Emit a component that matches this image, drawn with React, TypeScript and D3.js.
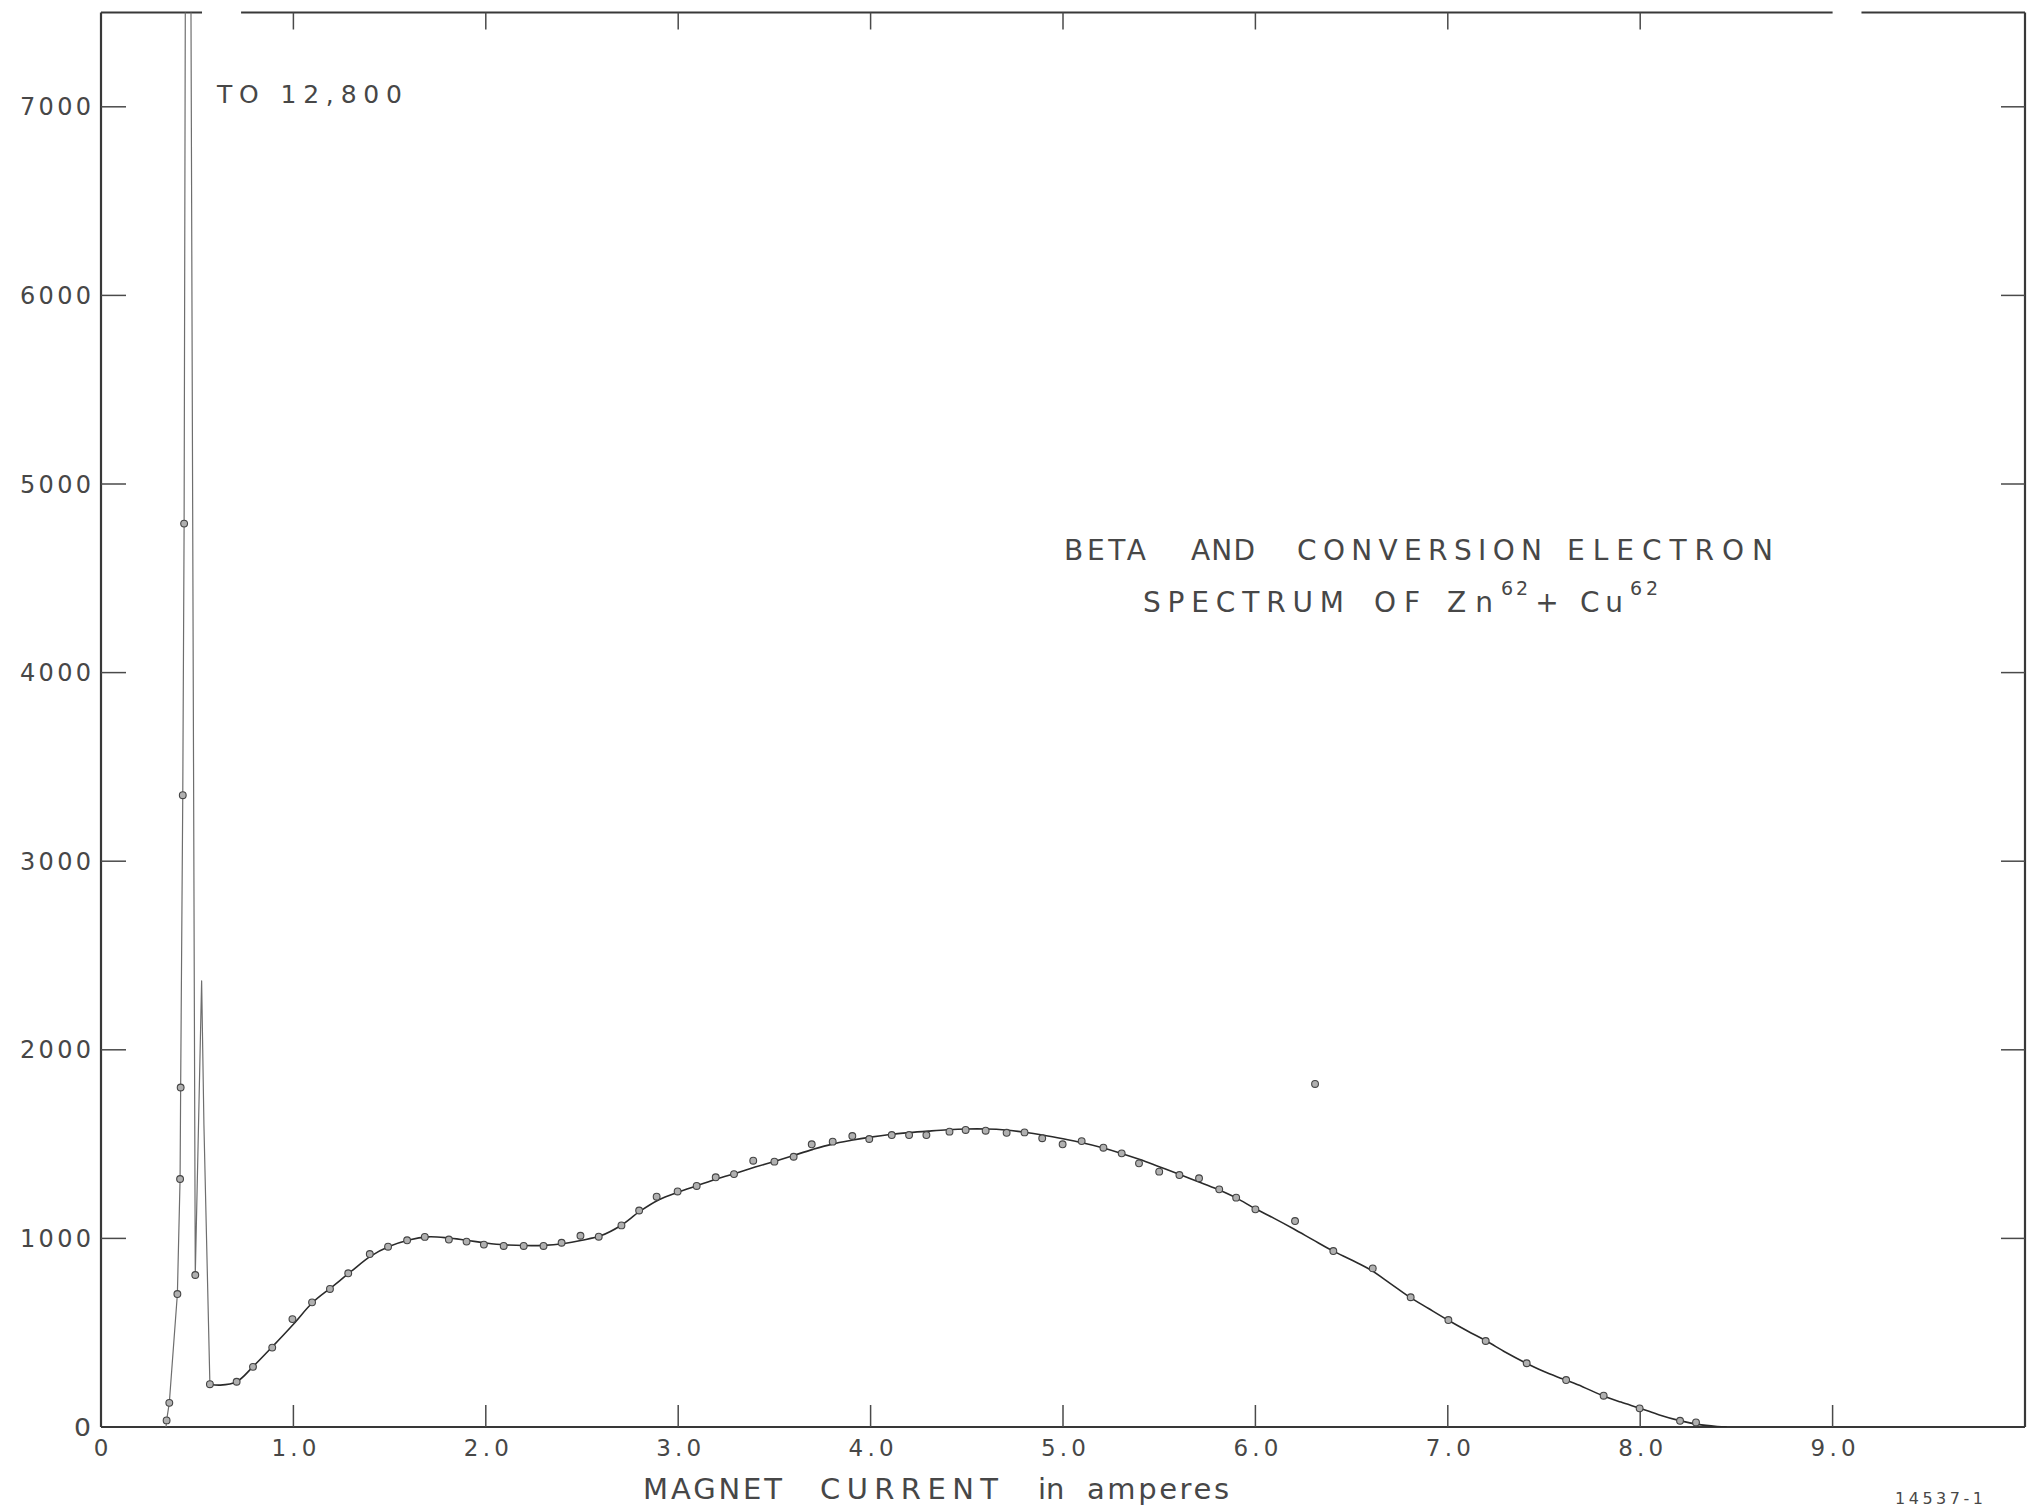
import React from 'react';
import * as d3 from 'd3';

// ---- axis ticks ----
const xTickValues = [1, 2, 3, 4, 5, 6, 7, 8, 9];
const xTickLabels = ['1.0', '2.0', '3.0', '4.0', '5.0', '6.0', '7.0', '8.0', '9.0'];
const yTickValues = [1000, 2000, 3000, 4000, 5000, 6000, 7000];
const yTickLabels = ['1000', '2000', '3000', '4000', '5000', '6000', '7000'];

// ---- conversion peak trace (straight segments, peak runs off scale to 12,800) ----
const peakCurrent = [0.338, 0.341, 0.355, 0.397, 0.411, 0.414, 0.425, 0.432, 0.45, 0.49, 0.523, 0.535, 0.566];
const peakCounts = [0, 35, 128, 705, 1315, 1800, 3350, 4790, 12800, 806, 2365, 1600, 227];

// ---- smooth beta spectrum curve ----
const fitCurrent = [0.566, 0.62, 0.705, 0.79, 0.89, 1.0, 1.1, 1.2, 1.3, 1.4, 1.5, 1.6, 1.7, 1.8, 1.9, 2.0, 2.1, 2.2, 2.3, 2.4, 2.5, 2.6, 2.7, 2.8, 2.9, 3.0, 3.1, 3.2, 3.3, 3.4, 3.5, 3.6, 3.7, 3.8, 3.9, 4.0, 4.1, 4.2, 4.3, 4.4, 4.5, 4.6, 4.7, 4.8, 4.9, 5.0, 5.1, 5.2, 5.3, 5.4, 5.5, 5.6, 5.7, 5.8, 5.9, 6.0, 6.1, 6.2, 6.3, 6.4, 6.5, 6.6, 6.7, 6.8, 6.9, 7.0, 7.1, 7.2, 7.3, 7.4, 7.5, 7.6, 7.7, 7.8, 7.9, 8.0, 8.1, 8.2, 8.3, 8.4, 8.45];
const fitCounts = [227, 222, 240, 320, 425, 545, 660, 742, 825, 905, 958, 992, 1008, 1003, 990, 976, 966, 962, 963, 972, 990, 1015, 1067, 1143, 1205, 1245, 1280, 1315, 1346, 1378, 1408, 1440, 1472, 1500, 1520, 1537, 1551, 1561, 1569, 1576, 1580, 1580, 1575, 1563, 1547, 1528, 1507, 1482, 1452, 1418, 1380, 1342, 1302, 1262, 1215, 1157, 1105, 1050, 992, 935, 885, 832, 762, 690, 628, 567, 510, 456, 396, 342, 294, 254, 214, 168, 132, 99, 64, 35, 14, 3, 0];

// ---- measured points ----
const pointCurrent = [0.341, 0.355, 0.397, 0.411, 0.414, 0.425, 0.432, 0.49, 0.566, 0.705, 0.79, 0.89, 0.995, 1.097, 1.19, 1.285, 1.397, 1.492, 1.591, 1.683, 1.808, 1.9, 1.99, 2.093, 2.197, 2.3, 2.394, 2.492, 2.587, 2.705, 2.797, 2.888, 2.997, 3.096, 3.195, 3.29, 3.39, 3.5, 3.6, 3.694, 3.803, 3.905, 3.993, 4.11, 4.2, 4.29, 4.41, 4.494, 4.598, 4.707, 4.8, 4.892, 4.998, 5.097, 5.21, 5.305, 5.395, 5.5, 5.605, 5.707, 5.812, 5.9, 6.0, 6.206, 6.31, 6.405, 6.61, 6.807, 7.003, 7.197, 7.41, 7.615, 7.81, 7.997, 8.207, 8.29];
const pointCounts = [35, 128, 705, 1315, 1800, 3350, 4790, 806, 227, 240, 319, 421, 572, 661, 732, 815, 917, 956, 990, 1008, 994, 983, 967, 960, 960, 960, 977, 1014, 1009, 1069, 1148, 1221, 1249, 1278, 1324, 1341, 1412, 1407, 1433, 1499, 1513, 1543, 1527, 1548, 1548, 1548, 1566, 1575, 1571, 1560, 1562, 1531, 1499, 1516, 1481, 1451, 1398, 1354, 1336, 1319, 1260, 1216, 1154, 1092, 1819, 933, 841, 688, 567, 456, 338, 249, 166, 99, 33, 24];

// gaps in the top border (in amperes)
const topGaps = [[0.525, 0.728], [9.0, 9.15]];

const W = 2028;
const H = 1507;
const INK = '#474747';
const FONT = '"DejaVu Sans", sans-serif';

export default function App() {
  const x = d3.scaleLinear().domain([0, 10]).range([101, 2025]);
  const y = d3.scaleLinear().domain([0, 7500]).range([1427, 12.5]);

  const peakData = peakCurrent.map((c, i) => [c, peakCounts[i]] as [number, number]);
  const fitData = fitCurrent.map((c, i) => [c, fitCounts[i]] as [number, number]);
  const pts = pointCurrent.map((c, i) => [c, pointCounts[i]] as [number, number]);

  const peakPath = d3.line<[number, number]>().x(d => x(d[0])).y(d => y(d[1])).curve(d3.curveLinear)(peakData) || '';
  const fitPath = d3.line<[number, number]>().x(d => x(d[0])).y(d => y(d[1])).curve(d3.curveCatmullRom.alpha(0.5))(fitData) || '';

  const x0 = x(0), x1 = x(10), yTop = y(7500), yBot = y(0);

  const segs: [number, number][] = [];
  let start = 0;
  topGaps.forEach(g => { segs.push([start, g[0]]); start = g[1]; });
  segs.push([start, 10]);

  const textStyle = { fontFamily: FONT, fill: INK } as const;

  return (
    <svg width={W} height={H} viewBox={`0 0 ${W} ${H}`} style={{ position: 'absolute', left: 0, top: 0, display: 'block', background: '#fff' }}>
      <rect x={0} y={0} width={W} height={H} fill="#fff" />
      <defs>
        <clipPath id="plot">
          <rect x={x0} y={yTop} width={x1 - x0} height={yBot - yTop} />
        </clipPath>
      </defs>

      {/* frame */}
      <g stroke="#383838" strokeWidth={2.2} fill="none">
        <line x1={x0} y1={yTop} x2={x0} y2={yBot} />
        <line x1={x0} y1={yBot} x2={x1} y2={yBot} />
        <line x1={x1} y1={yTop} x2={x1} y2={yBot} />
        {segs.map((s, i) => (
          <line key={i} x1={x(s[0])} y1={yTop} x2={x(s[1])} y2={yTop} />
        ))}
      </g>

      {/* ticks */}
      <g stroke="#4a4a4a" strokeWidth={1.5}>
        {xTickValues.map(v => (
          <line key={'xb' + v} x1={x(v)} x2={x(v)} y1={yBot} y2={yBot - 22} />
        ))}
        {xTickValues.filter(v => v < 9).map(v => (
          <line key={'xt' + v} x1={x(v)} x2={x(v)} y1={yTop} y2={yTop + 17} />
        ))}
        {yTickValues.map(v => (
          <line key={'yl' + v} x1={x0} x2={x0 + 25} y1={y(v)} y2={y(v)} />
        ))}
        {yTickValues.map(v => (
          <line key={'yr' + v} x1={x1} x2={x1 - 24} y1={y(v)} y2={y(v)} />
        ))}
      </g>

      {/* y tick labels */}
      <g style={textStyle} fontSize={24}>
        {yTickValues.map((v, i) => (
          <text key={'yl' + v} x={20} y={y(v)} dy="0.36em" textLength={71} lengthAdjust="spacing">{yTickLabels[i]}</text>
        ))}
        <text x={74} y={y(0)} dy="0.36em" textLength={17} lengthAdjust="spacingAndGlyphs">0</text>
      </g>

      {/* x tick labels */}
      <g style={textStyle} fontSize={23}>
        <text x={x(0)} y={1456} textAnchor="middle">0</text>
        {xTickValues.map((v, i) => (
          <text key={'xl' + v} x={x(v) - 22} y={1456} textLength={45} lengthAdjust="spacing">{xTickLabels[i]}</text>
        ))}
      </g>

      {/* x axis title */}
      <g style={textStyle} fontSize={29}>
        <text x={643} y={1499} textLength={139} lengthAdjust="spacing">MAGNET</text>
        <text x={820} y={1499} textLength={178} lengthAdjust="spacing">CURRENT</text>
        <text x={1038} y={1499}>in</text>
        <text x={1087} y={1499} textLength={142} lengthAdjust="spacing">amperes</text>
      </g>

      {/* chart title */}
      <g style={textStyle} fontSize={28}>
        <text x={1064} y={560} textLength={82} lengthAdjust="spacing">BETA</text>
        <text x={1191} y={560} textLength={64} lengthAdjust="spacing">AND</text>
        <text x={1297} y={560} textLength={245} lengthAdjust="spacing">CONVERSION</text>
        <text x={1567} y={560} textLength={206} lengthAdjust="spacing">ELECTRON</text>

        <text x={1143} y={612} textLength={201} lengthAdjust="spacing">SPECTRUM</text>
        <text x={1374} y={612} textLength={46} lengthAdjust="spacing">OF</text>
        <text x={1447} y={612} textLength={46} lengthAdjust="spacing">Zn</text>
        <text x={1501} y={595} fontSize={19} textLength={27} lengthAdjust="spacing">62</text>
        <text x={1547} y={612} textAnchor="middle">+</text>
        <text x={1580} y={612} textLength={43} lengthAdjust="spacing">Cu</text>
        <text x={1630} y={595} fontSize={19} textLength={28} lengthAdjust="spacing">62</text>
      </g>

      {/* off-scale note */}
      <text x={217} y={103} style={textStyle} fontSize={25} textLength={185} lengthAdjust="spacing">TO 12,800</text>

      {/* figure number */}
      <text x={1895} y={1504} style={textStyle} fontSize={16} textLength={88} lengthAdjust="spacing">14537-1</text>

      {/* data */}
      <g clipPath="url(#plot)">
        <path d={peakPath} fill="none" stroke="#6e6e6e" strokeWidth={1.2} strokeLinejoin="round" />
        <path d={fitPath} fill="none" stroke="#2a2a2a" strokeWidth={1.6} />
      </g>
      <g>
        {pts.map((p, i) => (
          <circle key={i} cx={x(p[0])} cy={y(p[1])} r={3.4} fill="#b0b0b0" stroke="#444" strokeWidth={1.1} />
        ))}
      </g>
    </svg>
  );
}
